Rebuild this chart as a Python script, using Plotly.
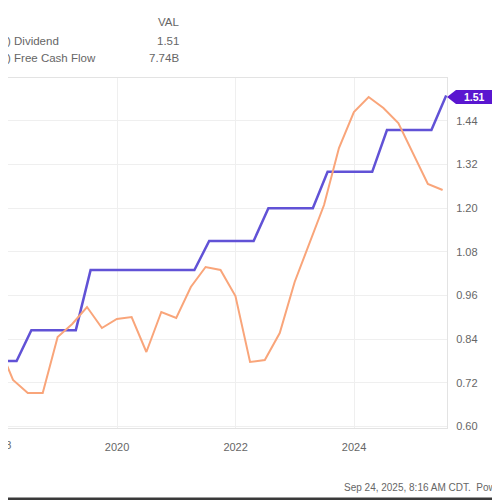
import plotly.graph_objects as go

# dividend (TTM), quarterly steps
div_dates = [
    "2017-10-22", "2018-01-22", "2018-04-22", "2018-07-22", "2018-10-22",
    "2019-01-22", "2019-04-22", "2019-07-22", "2019-10-22", "2020-01-22",
    "2020-04-22", "2020-07-22", "2020-10-22", "2021-01-22", "2021-04-22",
    "2021-07-22", "2021-10-22", "2022-01-22", "2022-04-22", "2022-07-22",
    "2022-10-22", "2023-01-22", "2023-04-22", "2023-07-22", "2023-10-22",
    "2024-01-22", "2024-04-22", "2024-07-22", "2024-10-22", "2025-01-22",
    "2025-04-22", "2025-07-22",
]
div_vals = [
    0.78, 0.78, 0.78, 0.865, 0.865,
    0.865, 0.865, 1.03, 1.03, 1.03,
    1.03, 1.03, 1.03, 1.03, 1.03,
    1.11, 1.11, 1.11, 1.11, 1.20,
    1.20, 1.20, 1.20, 1.30, 1.30,
    1.30, 1.30, 1.415, 1.415, 1.415,
    1.415, 1.51,
]

# free cash flow (TTM, billions), quarter ends
fcf_dates = [
    "2017-12-31", "2018-03-31", "2018-06-30", "2018-09-30", "2018-12-31",
    "2019-03-31", "2019-06-30", "2019-09-30", "2019-12-31", "2020-03-31",
    "2020-06-30", "2020-09-30", "2020-12-31", "2021-03-31", "2021-06-30",
    "2021-09-30", "2021-12-31", "2022-03-31", "2022-06-30", "2022-09-30",
    "2022-12-31", "2023-03-31", "2023-06-30", "2023-09-30", "2023-12-31",
    "2024-03-31", "2024-06-30", "2024-09-30", "2024-12-31", "2025-03-31",
    "2025-06-30",
]
fcf_vals = [
    4.64, 3.94, 3.68, 3.68, 4.80,
    5.06, 5.40, 4.98, 5.16, 5.20,
    4.50, 5.30, 5.18, 5.80, 6.20,
    6.14, 5.62, 4.30, 4.34, 4.88,
    5.90, 6.68, 7.44, 8.58, 9.30,
    9.60, 9.38, 9.08, 8.48, 7.86,
    7.74,
]

_PURPLE = "#6152d6"
_TAG = "#5a16d0"
_ORANGE = "#f9a57a"
_GRID = "#efefef"
_TXT = "#666666"
FONT = "Liberation Sans, Arial, sans-serif"

# the page puts the figure 8px in from the window corner; positions below
# are in window pixels. plot area: x 8..447, y 78..428
OFF = 8
L, R, T, B = 0, 61, 70, 80
PW, PH = 500 - L - R, 500 - T - B


def px(x):
    return (x - OFF - L) / PW


def py(y):
    return (500 - B - (y - OFF)) / PH


fig = go.Figure()
fig.add_trace(go.Scatter(
    x=fcf_dates, y=fcf_vals, mode="lines", yaxis="y2",
    line=dict(color=_ORANGE, width=2), showlegend=False,
))
fig.add_trace(go.Scatter(
    x=div_dates, y=div_vals, mode="lines",
    line=dict(color=_PURPLE, width=2.5), showlegend=False,
))

ann = []
# legend block (cropped on the left)
ann.append(dict(x=px(181), y=py(22), text="VAL", xanchor="right"))
ann.append(dict(x=px(-2), y=py(41), text="T) Dividend", xanchor="left"))
ann.append(dict(x=px(181), y=py(41), text=f"{div_vals[-1]:.2f}", xanchor="right"))
ann.append(dict(x=px(-2), y=py(58), text="T) Free Cash Flow", xanchor="left"))
ann.append(dict(x=px(181), y=py(58), text=f"{fcf_vals[-1]:.2f}B", xanchor="right"))
ann.append(dict(x=px(342), y=py(487), text="Sep 24, 2025, 8:16 AM CDT.  Powered by YCharts",
                xanchor="left", font=dict(size=10, color=_TXT, family=FONT)))
# first year label, mostly cut off at the left edge
ann.append(dict(x=px(13), y=py(445), text="2018", xanchor="right",
                font=dict(size=11, color=_TXT, family=FONT)))
for a in ann:
    a.update(xref="paper", yref="paper", showarrow=False, yanchor="middle")
    a.setdefault("font", dict(size=11.5, color=_TXT, family=FONT))

# last value tag
tag_y = div_vals[-1]
ann.append(dict(
    x=px(474), y=py(97), xref="paper", yref="paper", text=f"<b>{tag_y:.2f}</b>",
    showarrow=False, font=dict(size=10.5, color="white", family=FONT),
    xanchor="center", yanchor="middle",
))
fig.update_layout(annotations=ann)

shapes = [
    dict(type="path", xref="paper", yref="paper",
         path=f"M {px(447)} {py(97)} L {px(456)} {py(90)} L {px(493)} {py(90)} "
              f"L {px(493)} {py(104)} L {px(456)} {py(104)} Z",
         fillcolor=_TAG, line=dict(width=0), layer="above"),
    # screenshot frame on the right and bottom
    dict(type="rect", xref="paper", yref="paper", x0=px(497.5), x1=px(508),
         y0=py(508), y1=py(8), fillcolor="#3a3a3a", line=dict(width=0),
         layer="above"),
    dict(type="rect", xref="paper", yref="paper", x0=px(8), x1=px(508),
         y0=py(508), y1=py(497.5), fillcolor="#3a3a3a", line=dict(width=0),
         layer="above"),
]

fig.update_layout(
    width=500, height=500,
    margin=dict(l=L, r=R, t=T, b=B, autoexpand=False),
    paper_bgcolor="white", plot_bgcolor="white",
    font=dict(family=FONT, color=_TXT, size=11),
    shapes=shapes,
    xaxis=dict(
        type="date", range=["2018-02-28", "2025-07-27"],
        tick0="2018-01-01", dtick="M24", tickformat="%Y",
        gridcolor=_GRID, showline=True, linecolor="#e3e3e3", mirror=True,
        ticks="", ticklabelstandoff=9, ticklabeloverflow="allow",
        zeroline=False, tickfont=dict(size=11, color=_TXT), automargin=False,
    ),
    yaxis=dict(
        side="right", range=[0.596, 1.558], tick0=0.60, dtick=0.12,
        tickformat=".2f", gridcolor=_GRID, showline=True, linecolor="#e3e3e3",
        mirror=True, ticks="", ticklabelstandoff=6, zeroline=False,
        tickfont=dict(size=11, color=_TXT), automargin=False,
    ),
    yaxis2=dict(
        overlaying="y", side="left", range=[2.98, 9.98], visible=False,
        automargin=False,
    ),
)

fig.write_html("out.html")
